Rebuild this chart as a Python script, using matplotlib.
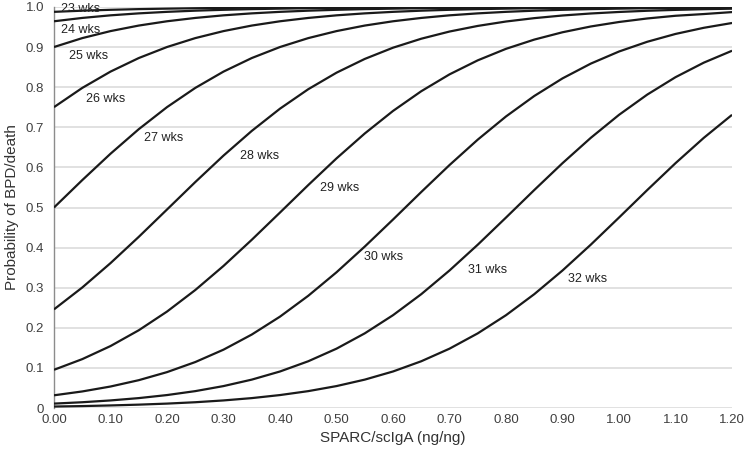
import matplotlib.pyplot as plt

plt.rcParams['font.family'] = ['Liberation Sans', 'DejaVu Sans']

# SPARC/scIgA ratio, sampled every 0.05
ratio = [0.00, 0.05, 0.10, 0.15, 0.20, 0.25, 0.30, 0.35, 0.40, 0.45, 0.50, 0.55,
         0.60, 0.65, 0.70, 0.75, 0.80, 0.85, 0.90, 0.95, 1.00, 1.05, 1.10, 1.15, 1.20]

# probability of BPD/death per gestational age
wk23 = [0.9879, 0.9908, 0.9930, 0.9947, 0.9959, 0.9969, 0.9976, 0.9982, 0.9986, 0.9990,
        0.9992, 0.9994, 0.9995, 0.9997, 0.9997, 0.9998, 0.9998, 0.9999, 0.9999, 0.9999,
        0.9999, 1.0000, 1.0000, 1.0000, 1.0000]
wk24 = [0.9644, 0.9727, 0.9792, 0.9841, 0.9879, 0.9908, 0.9930, 0.9947, 0.9959, 0.9969,
        0.9976, 0.9982, 0.9986, 0.9990, 0.9992, 0.9994, 0.9995, 0.9997, 0.9997, 0.9998,
        0.9998, 0.9999, 0.9999, 0.9999, 0.9999]
wk25 = [0.9002, 0.9224, 0.9399, 0.9537, 0.9644, 0.9727, 0.9792, 0.9841, 0.9879, 0.9908,
        0.9930, 0.9947, 0.9959, 0.9969, 0.9976, 0.9982, 0.9986, 0.9990, 0.9992, 0.9994,
        0.9995, 0.9997, 0.9997, 0.9998, 0.9998]
wk26 = [0.7503, 0.7982, 0.8389, 0.8727, 0.9002, 0.9224, 0.9399, 0.9537, 0.9644, 0.9727,
        0.9792, 0.9841, 0.9879, 0.9908, 0.9930, 0.9947, 0.9959, 0.9969, 0.9976, 0.9982,
        0.9986, 0.9990, 0.9992, 0.9994, 0.9995]
wk27 = [0.5000, 0.5683, 0.6341, 0.6953, 0.7503, 0.7982, 0.8389, 0.8727, 0.9002, 0.9224,
        0.9399, 0.9537, 0.9644, 0.9727, 0.9792, 0.9841, 0.9879, 0.9908, 0.9930, 0.9947,
        0.9959, 0.9969, 0.9976, 0.9982, 0.9986]
wk28 = [0.2460, 0.3005, 0.3613, 0.4268, 0.4950, 0.5634, 0.6295, 0.6910, 0.7465, 0.7950,
        0.8362, 0.8705, 0.8985, 0.9209, 0.9388, 0.9528, 0.9638, 0.9722, 0.9788, 0.9838,
        0.9876, 0.9906, 0.9928, 0.9945, 0.9958]
wk29 = [0.0953, 0.1219, 0.1545, 0.1939, 0.2405, 0.2942, 0.3543, 0.4195, 0.4875, 0.5560,
        0.6225, 0.6846, 0.7408, 0.7900, 0.8320, 0.8670, 0.8957, 0.9187, 0.9370, 0.9514,
        0.9626, 0.9714, 0.9781, 0.9824, 0.9873]
wk30 = [0.0317, 0.0413, 0.0536, 0.0694, 0.0895, 0.1146, 0.1455, 0.1832, 0.2279, 0.2799,
        0.3385, 0.4026, 0.4700, 0.5387, 0.6059, 0.6693, 0.7271, 0.7781, 0.8220, 0.8588,
        0.8890, 0.9133, 0.9328, 0.9481, 0.9601]
wk31 = [0.0110, 0.0144, 0.0189, 0.0247, 0.0323, 0.0421, 0.0547, 0.0708, 0.0911, 0.1166,
        0.1480, 0.1862, 0.2315, 0.2839, 0.3430, 0.4073, 0.4750, 0.5436, 0.6106, 0.6737,
        0.7311, 0.7816, 0.8250, 0.8612, 0.8909]
wk32 = [0.0037, 0.0048, 0.0064, 0.0084, 0.0110, 0.0144, 0.0189, 0.0247, 0.0323, 0.0421,
        0.0547, 0.0708, 0.0911, 0.1166, 0.1480, 0.1862, 0.2315, 0.2839, 0.3430, 0.4073,
        0.4750, 0.5436, 0.6106, 0.6737, 0.7311]

curves = [wk23, wk24, wk25, wk26, wk27, wk28, wk29, wk30, wk31, wk32]
curve_labels = ['23 wks', '24 wks', '25 wks', '26 wks', '27 wks',
                '28 wks', '29 wks', '30 wks', '31 wks', '32 wks']
label_x = [0.012, 0.012, 0.026, 0.056, 0.160, 0.330, 0.470, 0.548, 0.733, 0.910]
label_y = [0.995, 0.943, 0.878, 0.770, 0.673, 0.628, 0.549, 0.377, 0.344, 0.322]

fig = plt.figure(figsize=(7.45, 4.54), dpi=100)
ax = fig.add_axes([0.0725, 0.1013, 0.9101, 0.8833])

for ys in curves:
    ax.plot(ratio, ys, color='#1a1a1a', linewidth=1.6, solid_capstyle='butt', zorder=3)

for lab, lx, ly in zip(curve_labels, label_x, label_y):
    ax.text(lx, ly, lab, fontsize=9, color='#222222', va='center', ha='left', zorder=4)

ax.set_xlim(0, 1.2)
ax.set_ylim(0, 1.0)
ax.set_xticks([i / 10 for i in range(13)])
ax.set_xticklabels([f'{i / 10:.2f}' for i in range(13)])
ax.set_yticks([i / 10 for i in range(11)])
ax.set_yticklabels(['0'] + [f'{i / 10:.1f}' for i in range(1, 11)])
ax.tick_params(length=0, labelsize=9.5, labelcolor='#404040')
ax.tick_params(axis='x', pad=4)
ax.tick_params(axis='y', pad=7)
ax.grid(axis='y', color='#d9d9d9', linewidth=1.1)
ax.set_axisbelow(True)
for s in ['top', 'right', 'bottom']:
    ax.spines[s].set_visible(False)
ax.spines['left'].set_color('#8c8c8c')
ax.spines['left'].set_linewidth(1.0)

ax.set_xlabel('SPARC/scIgA (ng/ng)', fontsize=11, color='#333333', labelpad=4)
ax.set_ylabel('Probability of BPD/death', fontsize=11, color='#333333', labelpad=5)

fig.savefig('out.png', dpi=100)
